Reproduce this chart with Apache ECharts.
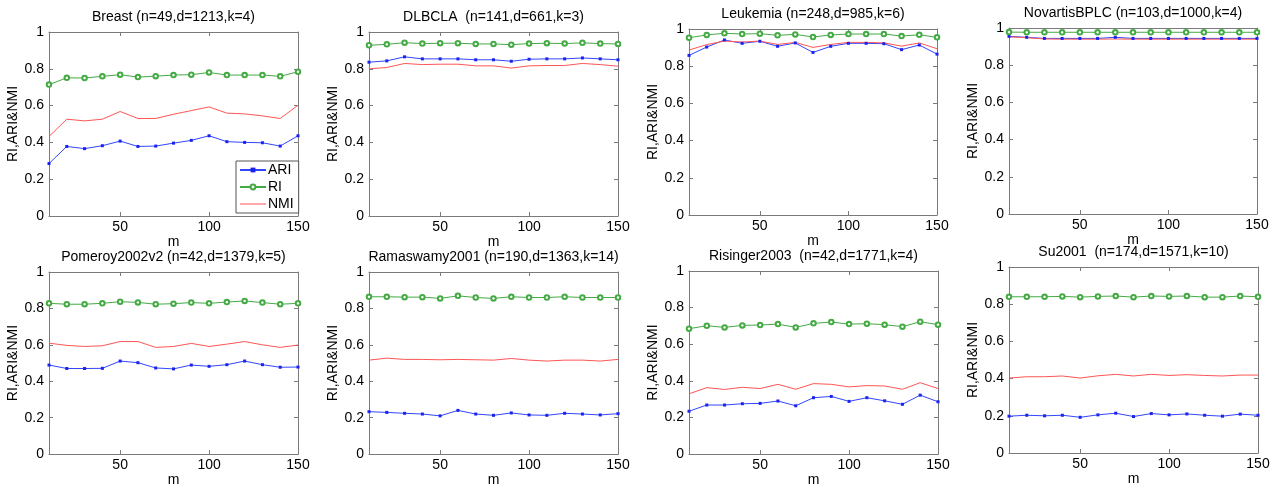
<!DOCTYPE html>
<html>
<head>
<meta charset="utf-8">
<script src="https://cdn.jsdelivr.net/npm/echarts@6/dist/echarts.min.js"></script>
<style>
  html, body { margin: 0; padding: 0; background: #fff; }
  #chart { width: 1281px; height: 488px; }
</style>
</head>
<body>
<div id="chart"></div>
<script>
// Subspace size m used in every experiment
const mValues = [10, 20, 30, 40, 50, 60, 70, 80, 90, 100, 110, 120, 130, 140, 150];
const xTicks = [50, 100, 150];

const panelTitles = [
  'Breast (n=49,d=1213,k=4)',
  'DLBCLA  (n=141,d=661,k=3)',
  'Leukemia (n=248,d=985,k=6)',
  'NovartisBPLC (n=103,d=1000,k=4)',
  'Pomeroy2002v2 (n=42,d=1379,k=5)',
  'Ramaswamy2001 (n=190,d=1363,k=14)',
  'Risinger2003  (n=42,d=1771,k=4)',
  'Su2001  (n=174,d=1571,k=10)'
];

// ARI / RI / NMI per dataset
const breastARI = [0.285, 0.378, 0.366, 0.382, 0.407, 0.378, 0.380, 0.396, 0.411, 0.436, 0.404, 0.400, 0.398, 0.380, 0.436];
const breastRI  = [0.714, 0.751, 0.750, 0.759, 0.768, 0.755, 0.760, 0.766, 0.768, 0.780, 0.766, 0.766, 0.766, 0.759, 0.784];
const breastNMI = [0.432, 0.526, 0.517, 0.526, 0.568, 0.530, 0.530, 0.553, 0.573, 0.593, 0.559, 0.555, 0.544, 0.530, 0.602];

const dlbclaARI = [0.836, 0.843, 0.865, 0.854, 0.854, 0.854, 0.849, 0.849, 0.841, 0.852, 0.854, 0.854, 0.859, 0.854, 0.849];
const dlbclaRI  = [0.928, 0.933, 0.942, 0.937, 0.939, 0.939, 0.935, 0.935, 0.931, 0.937, 0.939, 0.937, 0.941, 0.937, 0.935];
const dlbclaNMI = [0.800, 0.807, 0.829, 0.823, 0.825, 0.825, 0.816, 0.816, 0.804, 0.816, 0.818, 0.818, 0.829, 0.823, 0.814];

const leukemiaARI = [0.858, 0.903, 0.941, 0.923, 0.934, 0.907, 0.925, 0.874, 0.907, 0.923, 0.923, 0.921, 0.889, 0.914, 0.865];
const leukemiaRI  = [0.953, 0.968, 0.977, 0.973, 0.975, 0.966, 0.971, 0.957, 0.968, 0.973, 0.973, 0.973, 0.962, 0.969, 0.955];
const leukemiaNMI = [0.887, 0.916, 0.935, 0.930, 0.935, 0.917, 0.928, 0.901, 0.917, 0.928, 0.928, 0.925, 0.908, 0.925, 0.894];

const novartisARI = [0.955, 0.950, 0.944, 0.944, 0.944, 0.944, 0.950, 0.944, 0.944, 0.944, 0.944, 0.944, 0.944, 0.944, 0.944];
const novartisRI  = [0.978, 0.977, 0.977, 0.977, 0.977, 0.977, 0.977, 0.977, 0.977, 0.977, 0.977, 0.977, 0.977, 0.977, 0.977];
const novartisNMI = [0.952, 0.948, 0.941, 0.940, 0.940, 0.940, 0.941, 0.940, 0.940, 0.940, 0.940, 0.940, 0.940, 0.940, 0.940];

const pomeroyARI = [0.489, 0.470, 0.470, 0.471, 0.511, 0.502, 0.473, 0.468, 0.489, 0.482, 0.491, 0.511, 0.491, 0.477, 0.478];
const pomeroyRI  = [0.828, 0.823, 0.823, 0.828, 0.837, 0.833, 0.823, 0.826, 0.832, 0.828, 0.835, 0.841, 0.832, 0.823, 0.828];
const pomeroyNMI = [0.609, 0.597, 0.591, 0.595, 0.618, 0.618, 0.586, 0.591, 0.608, 0.591, 0.604, 0.618, 0.600, 0.586, 0.599];

const ramaswamyARI = [0.233, 0.229, 0.224, 0.220, 0.210, 0.240, 0.220, 0.213, 0.226, 0.215, 0.213, 0.224, 0.220, 0.215, 0.222];
const ramaswamyRI  = [0.864, 0.864, 0.862, 0.862, 0.855, 0.869, 0.860, 0.855, 0.864, 0.860, 0.860, 0.864, 0.860, 0.860, 0.860];
const ramaswamyNMI = [0.516, 0.527, 0.520, 0.520, 0.518, 0.520, 0.518, 0.516, 0.525, 0.516, 0.511, 0.516, 0.516, 0.511, 0.520];

const risingerARI = [0.234, 0.268, 0.268, 0.275, 0.277, 0.290, 0.264, 0.308, 0.315, 0.288, 0.308, 0.291, 0.272, 0.322, 0.286];
const risingerRI  = [0.685, 0.701, 0.692, 0.703, 0.705, 0.710, 0.692, 0.714, 0.721, 0.710, 0.712, 0.707, 0.696, 0.723, 0.707];
const risingerNMI = [0.329, 0.363, 0.353, 0.365, 0.358, 0.381, 0.354, 0.385, 0.381, 0.367, 0.374, 0.372, 0.354, 0.390, 0.358];

const suARI = [0.198, 0.203, 0.200, 0.203, 0.192, 0.205, 0.214, 0.196, 0.212, 0.205, 0.210, 0.203, 0.198, 0.209, 0.203];
const suRI  = [0.840, 0.840, 0.840, 0.842, 0.838, 0.842, 0.844, 0.838, 0.844, 0.842, 0.844, 0.838, 0.838, 0.844, 0.840];
const suNMI = [0.403, 0.410, 0.410, 0.414, 0.403, 0.415, 0.423, 0.414, 0.423, 0.417, 0.421, 0.417, 0.414, 0.419, 0.419];

const panelData = [
  [breastARI, breastRI, breastNMI],
  [dlbclaARI, dlbclaRI, dlbclaNMI],
  [leukemiaARI, leukemiaRI, leukemiaNMI],
  [novartisARI, novartisRI, novartisNMI],
  [pomeroyARI, pomeroyRI, pomeroyNMI],
  [ramaswamyARI, ramaswamyRI, ramaswamyNMI],
  [risingerARI, risingerRI, risingerNMI],
  [suARI, suRI, suNMI]
];

// Plot box of each panel: [left, top, width, height]
const boxes = [
  [49, 32, 249, 184], [369, 32, 249, 184], [689, 29, 248, 186], [1009, 28, 248, 186],
  [49, 272, 249, 186], [369, 272, 249, 186], [689, 271, 249, 186], [1009, 267, 249, 186]
];

const FONT = 'Liberation Sans, Arial, sans-serif';
const FRAME = '#7a7a7a';
const COLORS = { ARI: '#3346ff', RI: '#44aa44', NMI: '#ff5555' };

const grids = [], xAxes = [], yAxes = [], titles = [], series = [];

boxes.forEach((b, i) => {
  const [l, t, w, h] = b;
  grids.push({ left: l, top: t, width: w, height: h, show: false });

  titles.push({
    text: panelTitles[i],
    left: l + w / 2,
    top: t - 22,
    padding: 0,
    textAlign: 'center',
    textStyle: { fontFamily: FONT, fontSize: 14, fontWeight: 'normal', color: '#000' }
  });

  const axisLine = { show: true, onZero: false, lineStyle: { color: FRAME, width: 1 } };
  const tick = { show: true, inside: true, length: 4, lineStyle: { color: FRAME } };

  xAxes.push({
    gridIndex: i, type: 'value', min: 10, max: 150, position: 'bottom',
    axisLine: axisLine,
    axisTick: Object.assign({ customValues: xTicks }, tick),
    axisLabel: { customValues: xTicks, fontFamily: FONT, fontSize: 14, color: '#000', margin: 4 },
    splitLine: { show: false },
    name: 'm', nameLocation: 'middle', nameGap: 17,
    nameTextStyle: { fontFamily: FONT, fontSize: 14, color: '#000' }
  });
  xAxes.push({
    gridIndex: i, type: 'value', min: 10, max: 150, position: 'top',
    axisLine: axisLine,
    axisTick: Object.assign({ customValues: xTicks }, tick),
    axisLabel: { show: false },
    splitLine: { show: false }
  });
  yAxes.push({
    gridIndex: i, type: 'value', min: 0, max: 1, interval: 0.2, position: 'left',
    axisLine: axisLine, axisTick: tick,
    axisLabel: { fontFamily: FONT, fontSize: 14, color: '#000', margin: 5 },
    splitLine: { show: false },
    name: 'RI,ARI&NMI', nameLocation: 'middle', nameGap: 21,
    nameTextStyle: { fontFamily: FONT, fontSize: 14, color: '#000' }
  });
  yAxes.push({
    gridIndex: i, type: 'value', min: 0, max: 1, interval: 0.2, position: 'right',
    axisLine: axisLine, axisTick: tick,
    axisLabel: { show: false },
    splitLine: { show: false }
  });

  const [ari, ri, nmi] = panelData[i];
  const pairs = arr => mValues.map((m, k) => [m, arr[k]]);
  const common = { type: 'line', xAxisIndex: 2 * i, yAxisIndex: 2 * i, silent: true, animation: false };

  series.push(Object.assign({}, common, {
    name: 'ARI', data: pairs(ari),
    symbol: 'rect', symbolSize: 3,
    itemStyle: { color: '#1a22ee' },
    lineStyle: { color: COLORS.ARI, width: 1 }
  }));
  series.push(Object.assign({}, common, {
    name: 'RI', data: pairs(ri),
    symbol: 'emptyCircle', symbolSize: 4.5,
    itemStyle: { color: COLORS.RI, borderWidth: 0.8 },
    lineStyle: { color: COLORS.RI, width: 1 }
  }));
  series.push(Object.assign({}, common, {
    name: 'NMI', data: pairs(nmi),
    symbol: 'none', showSymbol: false,
    itemStyle: { color: COLORS.NMI },
    lineStyle: { color: COLORS.NMI, width: 1 }
  }));
});

const chart = echarts.init(document.getElementById('chart'), null, { renderer: 'canvas' });
chart.setOption({
  backgroundColor: '#fff',
  animation: false,
  title: titles,
  grid: grids,
  xAxis: xAxes,
  yAxis: yAxes,
  legend: {
    data: [
      { name: 'ARI' },
      { name: 'RI' },
      { name: 'NMI', icon: 'path://M0,0 L26,0 L26,1 L0,1 Z' }
    ],
    orient: 'vertical',
    left: 236, top: 161,
    selectedMode: false,
    backgroundColor: '#fff',
    borderColor: '#555',
    borderWidth: 1,
    padding: [1, 5, 1, 3],
    itemGap: 1,
    itemWidth: 26,
    itemHeight: 6,
    symbolKeepAspect: true,
    textStyle: { fontFamily: FONT, fontSize: 14, color: '#000', lineHeight: 16, padding: [0, 0, 0, -3] }
  },
  series: series
});
</script>
</body>
</html>
